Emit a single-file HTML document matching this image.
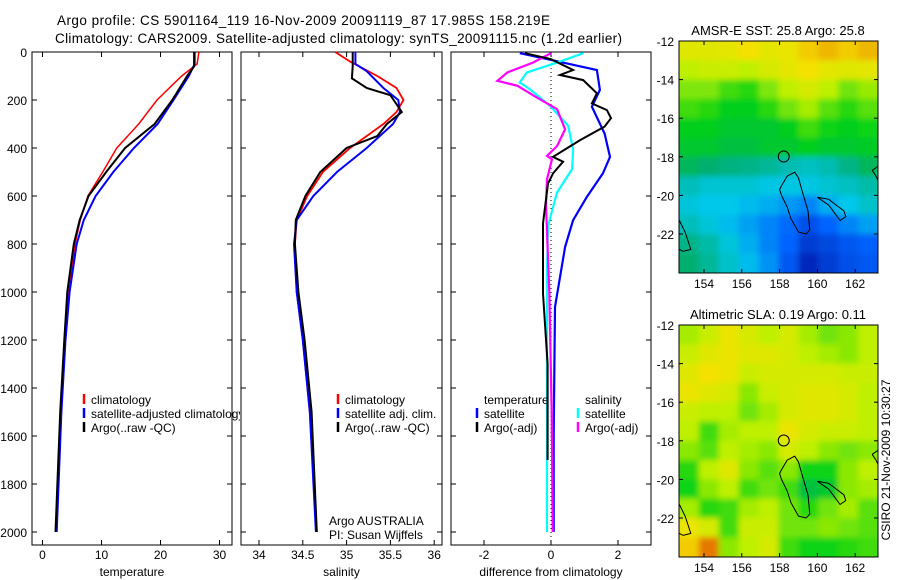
<!DOCTYPE html>
<html><head><meta charset="utf-8"><style>
html,body{margin:0;padding:0;background:#fff;}
svg{display:block;font-family:"Liberation Sans",sans-serif;}
</style></head><body>
<svg id="fig" width="900" height="580" viewBox="0 0 900 580">
<rect width="900" height="580" fill="#fff"/>
<text x="57" y="25" font-size="13.5" textLength="493">Argo profile: CS 5901164_119 16-Nov-2009 20091119_87 17.985S 158.219E</text>
<text x="55" y="43" font-size="13.5" textLength="567">Climatology: CARS2009. Satellite-adjusted climatology: synTS_20091115.nc (1.2d earlier)</text>
<g id="panels"></g>
<text x="890" y="460" font-size="12" text-anchor="middle" transform="rotate(-90 890 460)">CSIRO 21-Nov-2009 10:30:27</text>
</svg>
<script>
// ---------- data ----------
const depthTick=[0,200,400,600,800,1000,1200,1400,1600,1800,2000];
const tDepthClim=[0,50,100,200,300,400,500,600,700,800,1000,1200,1500,2000];
const tClim=[26.5,26.2,23.6,19.4,16.3,12.6,10.2,7.7,6.4,5.5,4.5,3.8,3.2,2.3];
const tDepthSat=[0,50,100,200,300,400,500,600,700,800,1000,1200,1500,2000];
const tSat=[25.8,25.8,24.8,22.2,19.5,15.5,12,9,7,5.8,4.6,3.9,3.2,2.4];
const tDepthArgo=[0,60,100,200,300,400,500,600,700,800,1000,1200,1500,2000];
const tArgo=[25.7,25.7,24.5,22,19,14,10.8,7.8,6.3,5.3,4.2,3.7,3.0,2.2];
const sDepthClim=[0,40,100,150,200,250,300,400,500,600,700,800,1000,1200,1500,2000];
const sClim=[34.87,35.04,35.35,35.57,35.65,35.57,35.42,35.04,34.73,34.55,34.43,34.41,34.43,34.5,34.58,34.66];
const sDepthSat=[0,50,80,150,200,250,300,400,500,600,700,800,1000,1200,1500,2000];
const sSat=[35.1,35.1,35.23,35.42,35.59,35.61,35.53,35.23,34.89,34.62,34.43,34.4,34.43,34.5,34.58,34.65];
const sDepthArgo=[0,60,110,150,180,250,300,350,400,500,600,700,800,1000,1200,1500,2000];
const sArgo=[35.07,35.07,35.06,35.23,35.5,35.63,35.46,35.35,35.0,34.7,34.53,34.42,34.41,34.45,34.52,34.6,34.66];
const dDepthTS=[5,30,75,158,228,340,437,506,604,701,812,1062,1300,1600,2000];
const dTSat=[-0.93,-0.1,1.37,1.46,1.22,1.6,1.76,1.55,1.07,0.66,0.42,0.12,0.1,0.08,0.08];
const dDepthTA=[5,30,75,96,117,172,214,242,276,311,367,437,457,506,548,714,1006,1300,1700];
const dTArgo=[-0.78,0,0.66,0.27,0.96,1.37,1.22,1.67,1.79,1.6,0.87,0.06,0.36,0.06,-0.09,-0.24,-0.24,-0.1,-0.1];
const dDepthSS=[5,44,85,127,155,224,307,405,488,586,725,919,1400,2000];
const dSSat=[0.96,0.18,-0.72,-0.93,-0.63,-0.03,0.51,0.66,0.63,0.18,-0.09,-0.12,-0.12,-0.12];
const dDepthSA=[5,44,85,120,141,190,238,322,392,433,447,530,641,1000,1500,2000];
const dSArgo=[0,-0.54,-1.3,-1.6,-1.0,-0.42,0.18,0.42,0.18,-0.12,0.03,-0.12,-0.15,-0.05,0.02,0.05];
const sstGrid=[
[0.86,0.86,0.87,0.9,0.87,0.88,0.92,0.94,0.92,0.94],
[0.8,0.82,0.82,0.8,0.84,0.87,0.9,0.87,0.86,0.87],
[0.75,0.75,0.7,0.68,0.75,0.8,0.84,0.8,0.74,0.77],
[0.7,0.68,0.64,0.64,0.68,0.74,0.78,0.72,0.68,0.72],
[0.64,0.64,0.62,0.62,0.62,0.64,0.7,0.66,0.64,0.66],
[0.62,0.62,0.6,0.6,0.62,0.62,0.64,0.62,0.62,0.63],
[0.57,0.55,0.53,0.52,0.5,0.47,0.45,0.47,0.52,0.57],
[0.46,0.43,0.43,0.43,0.41,0.41,0.41,0.43,0.45,0.48],
[0.42,0.4,0.4,0.38,0.36,0.33,0.3,0.36,0.4,0.44],
[0.46,0.42,0.38,0.34,0.3,0.26,0.2,0.25,0.3,0.34],
[0.52,0.48,0.42,0.36,0.3,0.25,0.15,0.18,0.22,0.24],
[0.55,0.5,0.44,0.38,0.32,0.22,0.1,0.15,0.2,0.22]];
const slaGrid=[
[0.78,0.82,0.88,0.84,0.8,0.84,0.78,0.74,0.76,0.8],
[0.82,0.86,0.88,0.86,0.86,0.84,0.8,0.78,0.76,0.8],
[0.86,0.9,0.88,0.82,0.84,0.84,0.84,0.84,0.82,0.82],
[0.88,0.86,0.84,0.76,0.82,0.84,0.86,0.86,0.84,0.8],
[0.82,0.8,0.8,0.74,0.78,0.84,0.86,0.86,0.84,0.8],
[0.8,0.7,0.78,0.8,0.8,0.88,0.84,0.82,0.82,0.8],
[0.76,0.72,0.8,0.78,0.76,0.84,0.8,0.76,0.74,0.76],
[0.68,0.8,0.86,0.76,0.72,0.76,0.66,0.66,0.76,0.8],
[0.66,0.76,0.8,0.7,0.74,0.7,0.6,0.62,0.76,0.78],
[0.78,0.68,0.7,0.78,0.8,0.74,0.68,0.74,0.78,0.72],
[0.88,0.84,0.7,0.82,0.82,0.74,0.74,0.76,0.74,0.72],
[0.92,1.0,0.76,0.8,0.84,0.7,0.66,0.66,0.68,0.7]];
const lonTicks=[154,156,158,160,162];
const latTicks=[-12,-14,-16,-18,-20,-22];
const reefLon=[158.1,158.4,158.8,159.0,159.2,159.5,159.6,159.4,159.0,158.6,158.4,158.1,158.0,158.1];
const reefLat=[-19.5,-19.0,-18.8,-19.1,-19.8,-20.8,-21.8,-22.0,-21.9,-21.2,-20.6,-20.0,-19.7,-19.5];
const reef2Lon=[160.0,160.6,161.0,161.4,161.5,161.2,160.9,160.6,160.0];
const reef2Lat=[-20.1,-20.2,-20.5,-20.8,-21.1,-21.3,-20.9,-20.5,-20.1];
const reef3Lon=[162.9,163.2,163.5,163.5,163.1,162.9];
const reef3Lat=[-18.7,-18.5,-18.9,-19.8,-19.0,-18.7];
const reef4Lon=[152.7,153.0,153.3,152.9,152.7];
const reef4Lat=[-21.3,-21.9,-22.8,-22.9,-22.8];
// ---------- helpers ----------
const NS='http://www.w3.org/2000/svg';
const root=document.getElementById('panels');
function mk(tag,attrs,parent){const e=document.createElementNS(NS,tag);for(const k in attrs)e.setAttribute(k,attrs[k]);(parent||root).appendChild(e);return e;}
const yD=d=>52+d*0.24;
function axes(x0,x1,xt,xs,label,name,yLabels){
  const g=mk('g',{});
  
  
  mk('rect',{x:x0,y:52,width:x1-x0,height:493,fill:'none',stroke:'#000','stroke-width':1},g);
  depthTick.forEach(d=>{const y=yD(d);
    mk('line',{x1:x0,y1:y,x2:x0+5,y2:y,stroke:'#000'},g);mk('line',{x1:x1,y1:y,x2:x1-5,y2:y,stroke:'#000'},g);
    if(yLabels){const t=mk('text',{x:x0-5,y:y+5,'font-size':12,'text-anchor':'end'},g);t.textContent=d;
      
      }
  });
  xt.forEach((v,i)=>{const x=xs(v);
    mk('line',{x1:x,y1:545,x2:x,y2:540,stroke:'#000'},g);mk('line',{x1:x,y1:52,x2:x,y2:57,stroke:'#000'},g);
    const t=mk('text',{x:x,y:559,'font-size':12,'text-anchor':'middle'},g);t.textContent=v;
    
    
  });
  const t=mk('text',{x:(x0+x1)/2,y:576,'font-size':12,'text-anchor':'middle'},g);t.textContent=label;
  
  
  return g;
}
function line(xs,vals,depths,color,w,name,dash){
  const p=vals.map((v,i)=>xs(v).toFixed(1)+','+yD(depths[i]).toFixed(1)).join(' ');
  const e=mk('polyline',{points:p,fill:'none',stroke:color,'stroke-width':w});
  if(dash)e.setAttribute('stroke-dasharray',dash);
  
  
}
function legend(x,y,color,label,name,parent){
  mk('line',{x1:x,y1:y-10,x2:x,y2:y,stroke:color,'stroke-width':2.5},parent);
  const t=mk('text',{x:x+7,y:y,'font-size':12},parent);t.textContent=label;
  
  
}
// ---------- panel 1 temperature ----------
const xT=v=>42.5+v*5.9;
axes(32,232,[0,10,20,30],xT,'temperature','temperature-panel',true);
line(xT,tClim,tDepthClim,'#f00',1.5,'temp-climatology-line');
line(xT,tSat,tDepthSat,'#00f',2,'temp-satellite-line');
line(xT,tArgo,tDepthArgo,'#000',2,'temp-argo-line');
const clip1=mk('clipPath',{id:'c1'});mk('rect',{x:32,y:380,width:208,height:60},clip1);
const lg1=mk('g',{'clip-path':'url(#c1)'});
legend(84,404,'#f00','climatology','legend-climatology',lg1);
legend(84,418,'#00f','satellite-adjusted climatology','legend-satellite-adjusted',lg1);
legend(84,432,'#000','Argo(..raw -QC)','legend-argo',lg1);
// ---------- panel 2 salinity ----------
const xS=v=>259+(v-34)*87.6;
axes(241,442,[34,34.5,35,35.5,36],xS,'salinity','salinity-panel',false);
line(xS,sClim,sDepthClim,'#f00',1.8,'sal-climatology-line');
line(xS,sSat,sDepthSat,'#00f',2,'sal-satellite-line');
line(xS,sArgo,sDepthArgo,'#000',2,'sal-argo-line');
legend(338,404,'#f00','climatology','legend-sal-climatology');
legend(338,418,'#00f','satellite adj. clim.','legend-sal-satellite');
legend(338,432,'#000','Argo(..raw -QC)','legend-sal-argo');
let t=mk('text',{x:329,y:525,'font-size':12});t.textContent='Argo AUSTRALIA';


t=mk('text',{x:329,y:539,'font-size':12});t.textContent='PI: Susan Wijffels';


// ---------- panel 3 difference ----------
const xDf=v=>551+v*33.5;
axes(451,651,[-2,0,2],xDf,'difference from climatology','difference-panel',false);
mk('line',{x1:551,y1:52,x2:551,y2:545,stroke:'#000','stroke-dasharray':'1,3'});
line(xDf,dTSat,dDepthTS,'#00f',2.2,'diff-temp-satellite-line');
line(xDf,dSSat,dDepthSS,'#0ff',2.2,'diff-sal-satellite-line');
line(xDf,dSArgo,dDepthSA,'#f0f',2.2,'diff-sal-argo-line');
line(xDf,dTArgo,dDepthTA,'#000',2,'diff-temp-argo-line');
t=mk('text',{x:484,y:404,'font-size':12});t.textContent='temperature';


t=mk('text',{x:585,y:404,'font-size':12});t.textContent='salinity';


legend(477,418,'#00f','satellite','legend-diff-temp-satellite');
legend(477,432,'#000','Argo(-adj)','legend-diff-temp-argo');
legend(578,418,'#0ff','satellite','legend-diff-sal-satellite');
legend(578,432,'#f0f','Argo(-adj)','legend-diff-sal-argo');
// ---------- maps ----------
const stops=[[0,[0,0,140]],[0.25,[0,100,255]],[0.4,[0,200,235]],[0.55,[0,175,110]],[0.65,[0,210,20]],[0.8,[190,240,0]],[0.9,[245,225,0]],[1,[230,120,0]]];
function cmap(v){for(let i=1;i<stops.length;i++){if(v<=stops[i][0]){const a=stops[i-1],b=stops[i],f=(v-a[0])/(b[0]-a[0]);return 'rgb('+a[1].map((c,k)=>Math.round(c+(b[1][k]-c)*f)).join(',')+')';}}return 'rgb(230,120,0)';}
function map(top,grid,title,name,fid){
  const L=679,R=878,bottom=top+232;
  const xL=lon=>704+(lon-154)*18.9;
  const yL=lat=>top+(-12-lat)*19.3;
  const g=mk('g',{});
  
  
  const cp=mk('clipPath',{id:'cp'+fid},g);mk('rect',{x:L,y:top,width:R-L,height:yL(-24)-top},cp);
  const f=mk('filter',{id:'bl'+fid,x:'-5%',y:'-5%',width:'110%',height:'110%'},g);mk('feGaussianBlur',{stdDeviation:3},f);
  const hg=mk('g',{'clip-path':'url(#cp'+fid+')'},g);
  const hb=mk('g',{filter:'url(#bl'+fid+')'},hg);
  const cw=(R-L)/grid[0].length;
  grid.forEach((row,r)=>row.forEach((v,c)=>{
    const e=mk('rect',{x:L+c*cw-(c==0?10:0),y:yL(-12-r)-(r==0?10:0),width:cw+1+(c==0||c==row.length-1?10:0),height:19.3+1+(r==0||r==grid.length-1?10:0),fill:cmap(v)},hb);
    
    
  }));
  [[reefLon,reefLat],[reef2Lon,reef2Lat],[reef3Lon,reef3Lat],[reef4Lon,reef4Lat]].forEach(([lo,la])=>{
    const e=mk('polyline',{points:lo.map((x,i)=>xL(x).toFixed(1)+','+yL(la[i]).toFixed(1)).join(' '),fill:'none',stroke:'#000','stroke-width':1},hg);
    
    
  });
  const c=mk('circle',{cx:xL(158.219),cy:yL(-17.985),r:5.5,fill:'none',stroke:'#000'},g);
  
  
  mk('rect',{x:L,y:top,width:R-L,height:bottom-top,fill:'none',stroke:'#000'},g);
  latTicks.forEach(la=>{const y=yL(la);mk('line',{x1:L,y1:y,x2:L+4,y2:y,stroke:'#000'},g);mk('line',{x1:R,y1:y,x2:R-4,y2:y,stroke:'#000'},g);
    const t=mk('text',{x:L-5,y:y+5,'font-size':12,'text-anchor':'end'},g);t.textContent=la;
    
    });
  lonTicks.forEach(lo=>{const x=xL(lo);mk('line',{x1:x,y1:bottom,x2:x,y2:bottom-4,stroke:'#000'},g);mk('line',{x1:x,y1:top,x2:x,y2:top+4,stroke:'#000'},g);
    const t=mk('text',{x:x,y:bottom+15,'font-size':12,'text-anchor':'middle'},g);t.textContent=lo;
    
    });
  const tt=mk('text',{x:778,y:top-6,'font-size':13,'text-anchor':'middle'},g);tt.textContent=title;
  
  
}
map(41,sstGrid,'AMSR-E SST: 25.8 Argo: 25.8','sst-map','a');
map(325,slaGrid,'Altimetric SLA: 0.19 Argo: 0.11','sla-map','b');
</script>
</body></html>
